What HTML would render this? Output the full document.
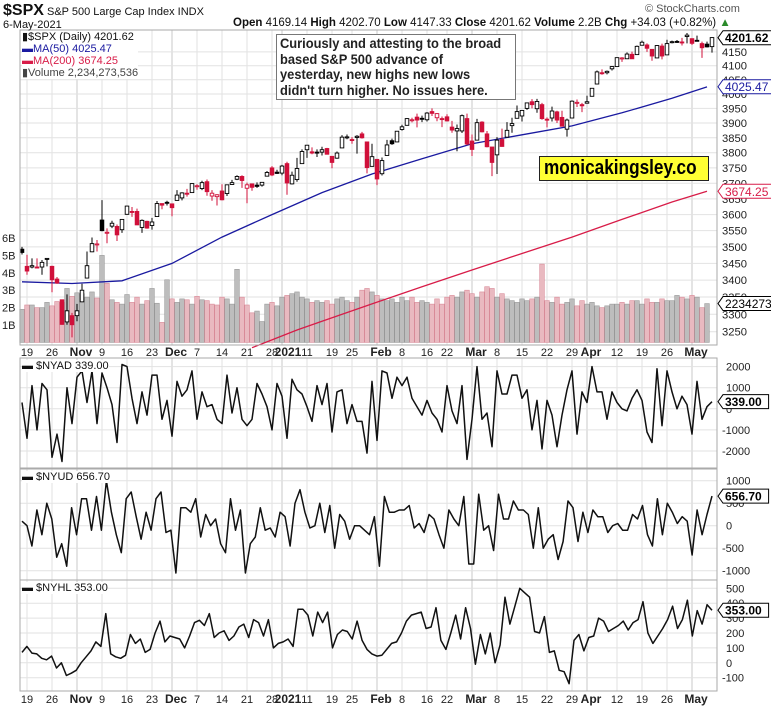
<!DOCTYPE html>
<html><head><meta charset="utf-8"><style>
body{margin:0;background:#fff;}
svg{display:block;font-family:"Liberation Sans",sans-serif;}
</style></head><body>
<svg id="c" width="771" height="707" viewBox="0 0 771 707" xmlns="http://www.w3.org/2000/svg"></svg>
<script>
const opens=[3493,3441,3439,3439,3439,3464,3441,3403,3342,3278,3296,
3296,3336,3406,3485,3508,3583,3543,3564,3563,3553,3601,3610,3610,3560,3579,3566,3594,3635,3639,3634,
3645,3653,3668,3670,3690,3683,3705,3659,3657,3675,3667,3696,3713,3722,3684,3698,3694,3694,3723,3750,3736,3733,
3764,3698,3712,3764,3810,3803,3802,3802,3814,3788,3782,3816,3852,3844,3851,3863,3836,3755,3778,
3731,3791,3840,3836,3878,3892,3910,3920,3916,3911,3939,3918,3915,3921,3886,3873,3873,3915,3839,
3842,3903,3863,3819,3793,3844,3852,3891,3916,3924,3950,3973,3949,3963,3913,3917,3938,3919,3879,3917,3969,3963,3968,
3992,4035,4075,4075,4089,4097,4125,4125,4141,4140,4174,4175,4159,4128,4171,4139,4185,4188,4186,4206,4198,
4192,4180,4178,4169];
const closes=[3483,3427,3443,3436,3453,3465,3401,3391,3271,3310,3270,
3310,3370,3443,3510,3509,3550,3545,3573,3537,3585,3627,3610,3568,3582,3558,3577,3635,3630,3638,3622,
3662,3669,3666,3699,3692,3702,3673,3668,3663,3647,3695,3702,3722,3709,3695,3687,3690,3703,3735,3727,3732,3756,
3701,3726,3748,3804,3825,3799,3801,3810,3795,3768,3799,3852,3853,3841,3855,3850,3751,3787,3714,
3774,3826,3830,3872,3887,3915,3911,3910,3916,3934,3933,3932,3914,3907,3876,3881,3925,3829,3811,
3901,3870,3820,3768,3842,3821,3875,3898,3939,3943,3969,3963,3974,3915,3913,3941,3910,3889,3910,3975,3971,3959,3973,
4020,4078,4074,4080,4097,4129,4128,4142,4125,4170,4185,4163,4135,4173,4135,4180,4187,4187,4184,4211,4181,
4192,4165,4168,4202];
const highs=[3500,3476,3465,3465,3460,3466,3443,3409,3342,3358,3304,
3330,3389,3486,3529,3521,3646,3557,3581,3569,3585,3628,3624,3619,3585,3581,3590,3643,3635,3644,3634,
3678,3671,3682,3699,3697,3708,3712,3678,3665,3697,3695,3711,3726,3726,3702,3698,3703,3703,3740,3756,3744,3760,
3770,3738,3783,3811,3826,3818,3811,3820,3816,3788,3804,3859,3861,3852,3859,3870,3836,3830,3778,
3784,3843,3847,3872,3894,3916,3918,3932,3925,3937,3950,3934,3922,3930,3907,3895,3929,3932,3861,
3914,3906,3873,3818,3852,3881,3903,3918,3960,3944,3970,3982,3983,3969,3919,3956,3942,3942,3915,3978,3981,3969,3994,
4020,4083,4087,4083,4098,4129,4131,4148,4151,4173,4191,4181,4160,4175,4180,4194,4191,4193,4201,4219,4199,
4209,4187,4187,4203];
const lows=[3477,3416,3435,3435,3416,3441,3364,3389,3270,3270,3234,
3280,3336,3405,3484,3486,3548,3511,3558,3518,3543,3600,3593,3567,3543,3556,3553,3594,3617,3629,3595,
3645,3645,3657,3670,3679,3678,3660,3644,3629,3645,3659,3695,3710,3685,3636,3676,3685,3689,3723,3723,3730,3726,
3663,3696,3705,3764,3783,3795,3786,3791,3795,3749,3780,3816,3845,3830,3797,3847,3732,3755,3694,
3725,3791,3826,3836,3874,3892,3902,3885,3903,3905,3924,3906,3886,3905,3867,3805,3866,3825,3789,
3842,3868,3818,3723,3730,3820,3852,3867,3916,3905,3945,3950,3935,3911,3885,3905,3900,3888,3854,3917,3955,3937,3968,
3992,4035,4068,4069,4083,4096,4114,4124,4124,4140,4173,4150,4118,4128,4123,4139,4181,4182,4173,4181,4175,
4188,4128,4166,4147];
const volumes=[1.9,2.15,2.15,2.0,2.0,2.3,2.1,2.35,2.3,3.1,2.65,2.85,2.8,2.6,2.9,2.55,5.0,3.4,2.45,2.3,2.2,2.75,2.3,2.6,2.2,2.4,3.1,2.25,1.15,3.6,2.5,
2.3,2.5,2.45,2.2,2.65,2.45,2.4,2.2,2.15,2.6,2.5,2.2,4.2,2.6,2.15,1.7,1.8,1.2,2.2,2.3,2.1,
2.6,2.7,2.8,2.9,2.6,2.5,2.3,2.4,2.3,2.4,2.2,2.5,2.6,2.4,2.3,2.6,3.0,3.1,2.9,
2.7,2.5,2.4,2.5,2.3,2.6,2.4,2.6,2.3,2.4,2.3,2.2,2.5,2.2,2.6,2.7,2.6,2.9,3.0,
2.8,2.6,2.9,3.2,3.1,2.6,2.8,2.5,2.4,2.3,2.5,2.4,2.5,2.6,4.5,2.4,2.3,2.6,2.2,2.3,2.5,2.1,2.4,
2.2,2.3,2.1,2.0,2.1,2.2,2.2,2.3,2.2,2.4,2.4,2.2,2.5,2.3,2.3,2.5,2.4,2.4,2.7,2.6,2.5,
2.7,2.6,2.0,2.23];
const ma50Idx=[0,10,20,30,40,50,60,70,80,90,100,110,120,130,137];
const ma50Val=[3395,3390,3398,3450,3530,3600,3670,3730,3780,3830,3860,3890,3935,3985,4025];
const ma200Idx=[46,55,60,70,80,90,100,110,120,130,137];
const ma200Val=[3205,3255,3280,3330,3380,3430,3480,3530,3585,3640,3674];
const nyad=[300,-1400,1100,-1000,1200,900,-2300,-1200,-2500,1000,-700,1500,1800,300,1800,-700,1700,1000,200,-1600,2100,2000,500,-700,800,-300,1600,1600,-500,400,-1300,1300,600,900,1800,-500,800,100,200,-500,-700,1600,-200,1000,-500,-800,-500,1200,700,100,-1000,1200,600,-1400,1400,900,700,100,-600,1100,200,1200,-1100,800,900,-700,200,-600,-600,-2100,1300,-1500,1800,1700,500,1500,1100,1500,500,100,-300,400,-200,-500,-1100,1100,-100,-700,1100,-2400,-500,2000,-500,-200,-1800,1800,700,700,1600,1600,500,900,-1000,400,-1900,400,-300,-1800,-300,900,1800,-1200,800,300,2000,800,800,-500,800,300,0,-100,500,900,400,-1100,-1600,1900,-800,1800,800,0,600,200,-1200,1300,-500,100,339];
const nyud=[100,0,-450,350,-200,500,150,-700,-400,-900,400,-200,600,600,-100,650,-100,1000,300,-200,-600,600,750,200,-300,300,-100,600,750,-150,-100,-1050,400,400,300,600,-250,250,0,150,-400,-600,600,-100,350,-1050,-400,-250,400,-100,-50,-250,300,200,-450,500,800,300,-50,0,500,-150,450,-500,250,100,-300,0,0,-100,-200,200,-900,650,300,300,350,350,450,-50,50,-150,250,150,-200,-500,350,150,0,650,-850,-850,700,-100,0,-550,700,150,150,550,350,350,250,-500,400,-500,-300,-200,-750,-350,550,400,-350,300,-150,350,200,200,-150,0,50,-100,-100,250,150,450,-200,-450,600,-200,500,300,50,200,100,-650,350,-200,250,657];
const nyhl=[70,110,65,60,30,20,45,-35,0,-85,-70,-50,0,40,80,140,110,330,60,40,30,50,190,130,160,70,90,200,280,140,180,170,160,100,180,270,285,250,330,170,200,215,150,180,240,260,170,290,270,180,290,100,130,140,160,110,360,360,320,180,340,270,340,100,190,220,210,160,280,150,90,60,45,50,90,130,140,200,280,320,330,340,230,240,370,150,90,200,320,160,370,230,-10,190,60,200,0,120,440,260,380,500,470,440,210,200,310,70,80,-50,-60,-140,150,190,80,170,180,300,280,210,230,250,280,220,270,290,410,200,130,180,230,290,380,230,290,420,180,350,260,390,353];
const priceTicks=[3250,3300,3350,3400,3450,3500,3550,3600,3650,3700,3750,3800,3850,3900,3950,4000,4050,4100,4150];
const volTicks=[1,2,3,4,5,6];
const nyadTicks=[2000,1000,0,-1000,-2000];
const nyudTicks=[1000,500,0,-500,-1000];
const nyhlTicks=[500,400,300,200,100,0,-100];
const dateIdx=[1,6,11,16,21,26,30,35,40,45,50,52,57,62,66,71,76,81,85,90,95,100,105,110,113,119,124,129,134];
const dateLbl=["19","26","Nov","9","16","23","Dec","7","14","21","28","2021","11","19","25","Feb","8","16","22","Mar","8","15","22","29","Apr","12","19","26","May"];
const monthIdx=[11,30,52,71,90,113,134];

const NS="http://www.w3.org/2000/svg";
const svg=document.getElementById('c');
function mk(tag,attrs,parent){const e=document.createElementNS(NS,tag);for(const k in attrs)e.setAttribute(k,attrs[k]);(parent||svg).appendChild(e);return e;}
const L=20,R=717;
const N=closes.length;
function X(i){return 22+i*(712-22)/(N-1);}
function XS(i,n){return 22+i*(712-22)/(n-1);}
function YP(p){return 94-1145*Math.log(p/4000);}
function YV(v){return 342.4-17.4*v;}
function YA(v){return 408.8-v*0.02108;}
function YU(v){return 525.7-v*0.045;}
function YH(v){return 662.8-v*0.149;}
const panels=[[30,345],[358,468],[469,580],[580,691]];

panels.forEach(function(p,pi){
  dateIdx.forEach(function(di){
    const g=mk('line',{x1:X(di),x2:X(di),y1:p[0],y2:p[1],stroke:monthIdx.indexOf(di)>=0?'#c8c8c8':'#e2e2e2','stroke-width':1});
    
    
  });
});
priceTicks.forEach(function(t){
  const y=YP(t);
  const g=mk('line',{x1:L,x2:R,y1:y,y2:y,stroke:'#e2e2e2'});
  
  
  const tx=mk('text',{x:722,y:y+4,'font-size':11,fill:'#222',textLength:25,lengthAdjust:'spacingAndGlyphs'});
  tx.textContent=t;
  
  
});
volTicks.forEach(function(t){
  const tx=mk('text',{x:2,y:YV(t)+4,'font-size':11,fill:'#222'});
  tx.textContent=t+'B';
  
  
});
function indTicks(ticks,fy,name){
  ticks.forEach(function(t){
    const y=fy(t);
    const g=mk('line',{x1:L,x2:R,y1:y,y2:y,stroke:'#e2e2e2'});
    
    
    const tx=mk('text',{x:t<0?722:726,y:y+4,'font-size':11,fill:'#222'});
    tx.textContent=t;
    
    
  });
}
indTicks(nyadTicks,YA,'nyad');
indTicks(nyudTicks,YU,'nyud');
indTicks(nyhlTicks,YH,'nyhl');

for(let i=0;i<N;i++){
  const down=i>0&&closes[i]<closes[i-1];
  const b=mk('rect',{x:X(i)-2.3,y:YV(volumes[i]),width:4.6,height:342.4-YV(volumes[i]),fill:down?'#e9b9c0':'#bdbdbd',stroke:down?'#d98a98':'#999','stroke-width':0.6});
  
  
}
function maPath(idx,val,col,name){
  let d='';
  for(let k=0;k<idx.length;k++){d+=(k?'L':'M')+X(idx[k]).toFixed(1)+','+YP(val[k]).toFixed(1);}
  const p=mk('path',{d:d,fill:'none',stroke:col,'stroke-width':1.3});
  
  
}
maPath(ma50Idx,ma50Val,'#1a1aa0','ma50-line');
maPath(ma200Idx,ma200Val,'#d81c48','ma200-line');
for(let i=0;i<N;i++){
  const down=i>0&&closes[i]<closes[i-1];
  const col=down?'#d0103a':'#000';
  const w=mk('line',{x1:X(i),x2:X(i),y1:YP(highs[i]),y2:YP(lows[i]),stroke:col,'stroke-width':1});
  
  
  const top=YP(Math.max(opens[i],closes[i])),bot=YP(Math.min(opens[i],closes[i]));
  const hollow=closes[i]>opens[i];
  const b=mk('rect',{x:X(i)-1.8,y:top,width:3.6,height:Math.max(1,bot-top),fill:hollow?'#fff':col,stroke:col,'stroke-width':0.9});
  
  
}
function line(vals,fy,name){
  let d='';
  for(let k=0;k<vals.length;k++){d+=(k?'L':'M')+XS(k,vals.length).toFixed(1)+','+fy(vals[k]).toFixed(1);}
  const p=mk('path',{d:d,fill:'none',stroke:'#111','stroke-width':1.5,'stroke-linejoin':'round'});
  
  
}
line(nyad,YA,'nyad-line');
line(nyud,YU,'nyud-line');
line(nyhl,YH,'nyhl-line');

panels.forEach(function(p){
  const r=mk('rect',{x:L,y:p[0],width:R-L,height:p[1]-p[0],fill:'none',stroke:'#aaa','stroke-width':1});
  
  
});
[352,699].forEach(function(yy){
  dateIdx.forEach(function(di,k){
    const isM=monthIdx.indexOf(di)>=0;
    const lbl=dateLbl[k];
    const t=mk('text',{x:X(di)+(isM?(lbl==='2021'?6:4):0),y:yy+4,'font-size':isM?12:11,'font-weight':isM?'bold':'normal','text-anchor':'middle',fill:'#222'});
    t.textContent=lbl;
    
    
  });
});
function tag(y,txt,col,name,bold){
  const g=mk('g',{});
  
  
  const w=Math.min(txt.length*6.6+6,49);
  mk('path',{d:'M718,'+y+' L723,'+(y-7)+' L'+(723+w)+','+(y-7)+' L'+(723+w)+','+(y+7)+' L723,'+(y+7)+'Z',fill:'#fff',stroke:col,'stroke-width':1},g);
  const t=mk('text',{x:725,y:y+4.5,'font-size':12,'font-weight':bold?'bold':'normal',fill:col},g);
  t.textContent=txt;
}
tag(YP(4201.62),'4201.62','#000','close-price-tag',true);
tag(YP(4025.47),'4025.47','#1a1aa0','ma50-tag',false);
tag(YP(3674.25),'3674.25','#d81c48','ma200-tag',false);
tag(YV(2.234),'2234273536','#000','volume-tag',false);
tag(YA(339),'339.00','#000','nyad-tag',true);
tag(YU(656.7),'656.70','#000','nyud-tag',true);
tag(YH(353),'353.00','#000','nyhl-tag',true);
</script>
<div style="position:absolute;left:0;top:0;width:771px;height:707px;pointer-events:none;font-family:'Liberation Sans',sans-serif;">
  <div style="position:absolute;left:3px;top:2px;font-size:11px;color:#111;"><b style="font-size:16px">$SPX</b> S&amp;P 500 Large Cap Index INDX</div>
  <div style="position:absolute;left:3px;top:19px;font-size:11px;color:#111;">6-May-2021</div>
  <div style="position:absolute;left:233px;top:17px;font-size:11.5px;color:#111;white-space:nowrap;"><b>Open</b> 4169.14 <b>High</b> 4202.70 <b>Low</b> 4147.33 <b>Close</b> 4201.62 <b>Volume</b> 2.2B <b>Chg</b> +34.03 (+0.82%) <span style="color:#2a8a2a">▲</span></div>
  <div style="position:absolute;left:645px;top:3px;font-size:11px;color:#555;">© StockCharts.com</div>
  <div style="position:absolute;left:22px;top:31px;font-size:11px;line-height:12px;background:#fff;">
    <div style="color:#111">▮$SPX (Daily) 4201.62</div>
    <div style="color:#1a1aa0">▬MA(50) 4025.47</div>
    <div style="color:#d81c48">▬MA(200) 3674.25</div>
    <div style="color:#444">▮Volume 2,234,273,536</div>
  </div>
  <div style="position:absolute;left:276px;top:34px;width:232px;height:62px;padding:1px 3px;border:1px solid #777;background:#fff;font-size:14px;font-weight:bold;line-height:15.5px;color:#222;white-space:nowrap;overflow:hidden;"><div style="transform:scaleX(0.92);transform-origin:0 0;">Curiously and attesting to the broad<br>based S&amp;P 500 advance of<br>yesterday, new highs new lows<br>didn't turn higher. No issues here.</div></div>
  <div style="position:absolute;left:539px;top:156px;width:168px;height:23px;border:1px solid #222;background:#ffff33;color:#000;overflow:hidden;"><div style="font-size:20px;font-weight:bold;line-height:23px;white-space:nowrap;transform:scaleX(0.86);transform-origin:4px 0;padding-left:4px;">monicakingsley.co</div></div>
  <div style="position:absolute;left:22px;top:360px;font-size:11px;color:#111;background:#fff;">▬ $NYAD 339.00</div>
  <div style="position:absolute;left:22px;top:471px;font-size:11px;color:#111;background:#fff;">▬ $NYUD 656.70</div>
  <div style="position:absolute;left:22px;top:582px;font-size:11px;color:#111;background:#fff;">▬ $NYHL 353.00</div>
</div>
</body></html>
